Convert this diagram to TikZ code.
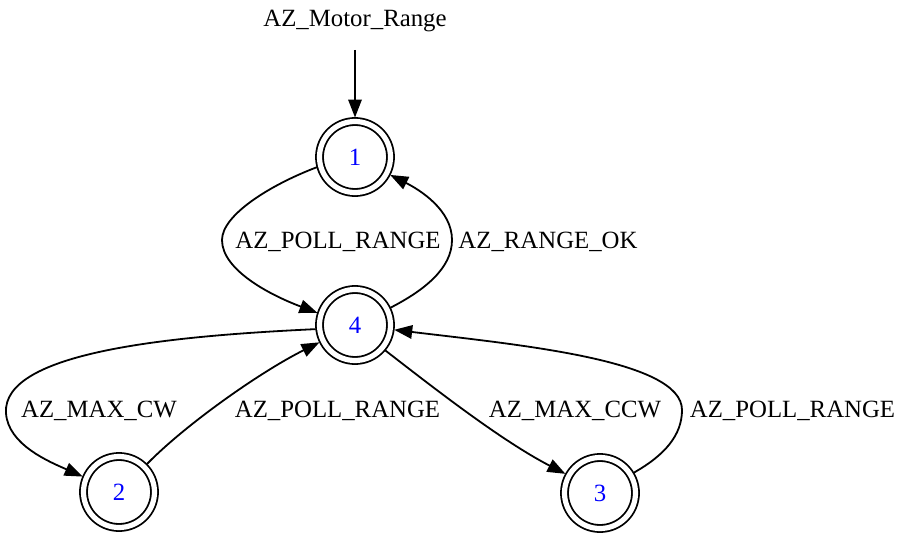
\documentclass[tikz,border=0pt]{standalone}
\usepackage{fontspec}
\setmainfont{Liberation Serif}
\usetikzlibrary{arrows.meta}
\begin{document}
\begin{tikzpicture}[x=1pt,y=-1pt,
  every node/.style={font=\fontsize{24.8}{30}\selectfont},
  state/.style={circle,draw,line width=1.8pt,double,double distance=5.2pt,
    minimum size=71pt,inner sep=0pt,outer sep=4pt,text=blue},
  lbl/.style={anchor=base,inner sep=0pt},
  edge/.style={line width=1.8pt,-{Triangle[length=18pt,width=13.5pt]}}]
\useasboundingbox (0,0) rectangle (899,535);

% states
\node[state] (s1) at (355,157) {1};
\node[state] (s4) at (355,325) {4};
\node[state] (s2) at (119,492) {2};
\node[state] (s3) at (600,493) {3};

% start marker
\node[lbl] (title) at (355,27) {AZ\_Motor\_Range};
\coordinate (start) at (355,50);
\draw[edge] (start) -- (s1.north);

% transitions between 1 and 4
\draw[edge] (s1.195) .. controls (270,185) and (222,215) .. (222,240)
  .. controls (222,270) and (270,295) .. (s4.162);
\node[lbl] (l14) at (338,248) {AZ\_POLL\_RANGE};
\draw[edge] (s4.26) .. controls (425,290) and (452,268) .. (452,240)
  .. controls (452,210) and (420,190) .. (s1.333);
\node[lbl] (l41) at (548,248) {AZ\_RANGE\_OK};

% transitions between 4 and 2
\draw[edge] (s4.186) .. controls (170,336) and (2,352) .. (6,413)
  .. controls (8,445) and (50,462) .. (s2.157);
\node[lbl] (l42) at (99,417) {AZ\_MAX\_CW};
\draw[edge] (s2.45) .. controls (185,425) and (260,372) .. (s4.206);
\node[lbl] (l24) at (337.5,417) {AZ\_POLL\_RANGE};

% transitions between 4 and 3
\draw[edge] (s4.320) .. controls (430,385) and (500,440) .. (s3.151);
\node[lbl] (l43) at (575,417) {AZ\_MAX\_CCW};
\draw[edge] (s3.31) .. controls (665,455) and (682,435) .. (682,410)
  .. controls (682,360) and (520,345) .. (s4.353);
\node[lbl] (l34) at (792.5,417) {AZ\_POLL\_RANGE};
\end{tikzpicture}
\end{document}
